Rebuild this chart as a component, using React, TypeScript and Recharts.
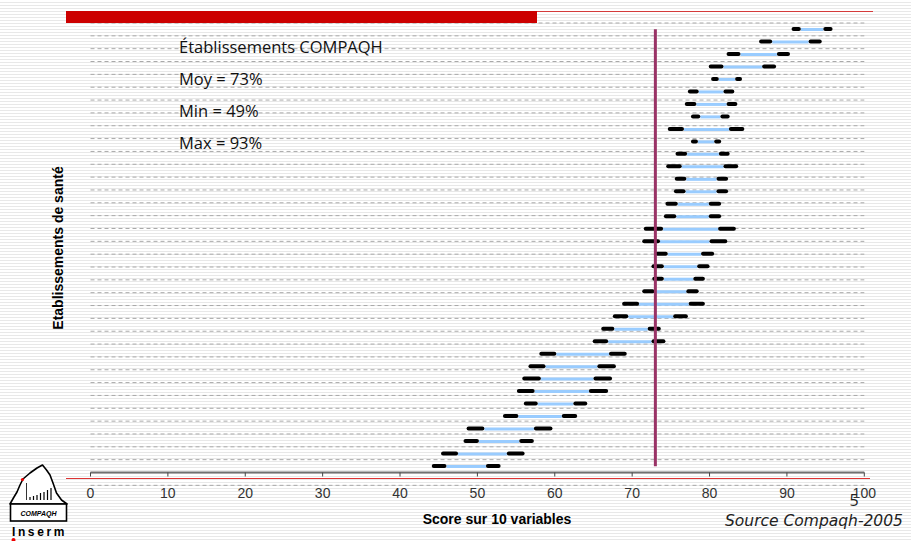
import React from 'react';
import { ComposedChart, Bar, XAxis, YAxis, CartesianGrid, ReferenceLine } from 'recharts';

// Establishments (top to bottom)
const establishments = [
  'E01', 'E02', 'E03', 'E04', 'E05', 'E06', 'E07', 'E08', 'E09', 'E10', 'E11', 'E12',
  'E13', 'E14', 'E15', 'E16', 'E17', 'E18', 'E19', 'E20', 'E21', 'E22', 'E23', 'E24',
  'E25', 'E26', 'E27', 'E28', 'E29', 'E30', 'E31', 'E32', 'E33', 'E34', 'E35', 'E36',
];

// Outer interval (black ends)
const outerLow = [
  90.6, 86.4, 82.2, 79.9, 80.2, 77.2, 76.8, 77.6, 74.6, 77.6, 75.6, 74.4,
  75.5, 75.4, 74.3, 74.1, 71.5, 71.3, 73.0, 72.5, 72.6, 71.3, 68.7, 67.5,
  66.0, 64.9, 58.0, 56.6, 55.8, 55.1, 56.0, 53.3, 48.6, 48.2, 45.3, 44.1,
];
const outerHigh = [
  95.9, 94.5, 90.4, 88.6, 84.2, 83.2, 83.6, 82.6, 84.5, 81.5, 82.6, 83.7,
  82.4, 82.4, 81.5, 81.5, 83.4, 82.3, 80.6, 80.0, 79.4, 78.6, 79.4, 77.2,
  73.7, 74.3, 69.3, 67.9, 67.4, 66.9, 64.2, 62.9, 59.7, 57.3, 56.1, 53.0,
];
// Inner interval (light blue)
const innerLow = [
  91.8, 88.1, 84.0, 81.8, 81.2, 78.6, 78.3, 78.8, 76.7, 78.5, 77.1, 76.4,
  77.0, 76.9, 75.9, 75.7, 74.0, 73.6, 74.6, 74.1, 74.1, 72.9, 70.9, 69.5,
  67.7, 66.9, 60.2, 58.8, 58.2, 57.4, 57.8, 55.3, 50.9, 50.2, 47.5, 46.0,
];
const innerHigh = [
  94.7, 92.8, 88.7, 86.8, 83.3, 81.8, 82.2, 81.4, 82.5, 80.6, 81.2, 81.8,
  80.9, 80.9, 79.9, 79.9, 81.1, 80.0, 78.9, 78.4, 77.9, 77.0, 77.3, 75.3,
  72.0, 72.5, 67.0, 65.5, 65.0, 64.4, 62.4, 60.9, 57.3, 55.4, 53.8, 51.1,
];

const xTicks = [0, 10, 20, 30, 40, 50, 60, 70, 80, 90, 100];
const rowBoundaries = [
  0, 1, 2, 3, 4, 5, 6, 7, 8, 9, 10, 11, 12, 13, 14, 15, 16, 17, 18,
  19, 20, 21, 22, 23, 24, 25, 26, 27, 28, 29, 30, 31, 32, 33, 34, 35, 36,
];
const meanScore = 73;

const annotations = ['Établissements COMPAQH', 'Moy = 73%', 'Min = 49%', 'Max = 93%'];

const rows = establishments.map((id, i) => ({
  id,
  leftEnd: [outerLow[i], innerLow[i]],
  inner: [innerLow[i], innerHigh[i]],
  rightEnd: [innerHigh[i], outerHigh[i]],
}));

const NoTick = () => <g />;

export default function App() {
  return (
    <div
      style={{
        position: 'absolute',
        left: 0,
        top: 0,
        width: 911,
        height: 541,
        overflow: 'hidden',
        background:
          'repeating-linear-gradient(to bottom, #ffffff 0px, #ffffff 2px, #e8e8e8 2px, #e8e8e8 3px)',
      }}
    >
      <div style={{ position: 'absolute', left: 0, top: 0 }}>
        <ComposedChart
          width={911}
          height={541}
          data={rows}
          layout="vertical"
          margin={{ top: 23, right: 46.7, bottom: 38.5, left: 80.5 }}
          barGap={0}
        >
          <CartesianGrid
            yAxisId="grid"
            vertical={false}
            stroke="#a8a8a8"
            strokeDasharray="4 3"
          />
          <XAxis
            type="number"
            domain={[0, 100]}
            ticks={xTicks}
            height={30}
            stroke="#707070"
            strokeWidth={2}
            tickSize={4}
            tickMargin={12}
            tickLine={{ stroke: '#444', strokeWidth: 1 }}
            tick={{ fill: '#333', fontSize: 14, fontFamily: '"Liberation Sans", Arial, sans-serif' }}
          />
          <YAxis yAxisId="cat1" type="category" dataKey="id" hide />
          <YAxis yAxisId="cat2" type="category" dataKey="id" hide />
          <YAxis yAxisId="cat3" type="category" dataKey="id" hide />
          <YAxis
            yAxisId="grid"
            type="number"
            domain={[0, 36]}
            ticks={rowBoundaries}
            interval={0}
            width={10}
            allowDataOverflow
            stroke="#707070"
            strokeWidth={2}
            tickSize={3}
            tickLine={{ stroke: '#444', strokeWidth: 1 }}
            tick={NoTick}
          />
          <Bar
            yAxisId="cat2"
            dataKey="inner"
            fill="#99ccff"
            barSize={3}
            isAnimationActive={false}
          />
          <Bar
            yAxisId="cat1"
            dataKey="leftEnd"
            fill="#000000"
            barSize={4}
            radius={2}
            isAnimationActive={false}
          />
          <Bar
            yAxisId="cat3"
            dataKey="rightEnd"
            fill="#000000"
            barSize={4}
            radius={2}
            isAnimationActive={false}
          />
          <ReferenceLine
            yAxisId="cat1"
            segment={[
              { x: meanScore, y: establishments[0] },
              { x: meanScore, y: establishments[establishments.length - 1] },
            ]}
            stroke="#993366"
            strokeWidth={3}
            ifOverflow="visible"
          />
        </ComposedChart>
      </div>
      <svg
        width={911}
        height={541}
        style={{ position: 'absolute', left: 0, top: 0, pointerEvents: 'none' }}
      >
        {/* slide header bar */}
        <rect x={66} y={11} width={471} height={12} fill="#cc0000" />
        <line x1={537} y1={11.5} x2={873} y2={11.5} stroke="#d43a3a" strokeWidth={1} />
        {/* bottom red line */}
        <line x1={66} y1={478.5} x2={870} y2={478.5} stroke="#dd3333" strokeWidth={1} />

        {annotations.map((t, i) => (
          <text
            key={t}
            x={179}
            y={52.5 + i * 32}
            fontFamily='"Comic Sans MS", "Open Sans", sans-serif'
            fontSize={16.5}
            fill="#111"
          >
            {t}
          </text>
        ))}

        <text
          transform="translate(63,248) rotate(-90)"
          textAnchor="middle"
          fontFamily='"Liberation Sans", Arial, sans-serif'
          fontWeight="bold"
          fontSize={14}
          fill="#000"
        >
          Etablissements de santé
        </text>
        <text
          x={497}
          y={524}
          textAnchor="middle"
          fontFamily='"Liberation Sans", Arial, sans-serif'
          fontWeight="bold"
          fontSize={14}
          fill="#000"
        >
          Score sur 10 variables
        </text>
        <text
          x={725}
          y={526}
          fontFamily='"DejaVu Sans", Verdana, sans-serif'
          fontStyle="italic"
          fontSize={15.5}
          fill="#222"
        >
          Source Compaqh-2005
        </text>
        <text
          x={854}
          y={506}
          textAnchor="middle"
          fontFamily='"Open Sans", sans-serif'
          fontSize={16}
          fill="#222"
        >
          5
        </text>

        {/* logo */}
        <path
          d="M10,504 L14,497 L17,492 L20,485 L23,479 L30,473 L37,468 L42.5,465 L46.5,470 L50,475 L53,483 L56.5,493 L61.5,500 L67,504 Z"
          fill="#fff"
          stroke="#000"
          strokeWidth={1.6}
          strokeLinejoin="round"
        />
        <line x1={26.5} y1={483} x2={26.5} y2={500} stroke="#000" strokeWidth={0.8} />
        <line x1={30} y1={497} x2={30} y2={500} stroke="#000" strokeWidth={1.2} />
        <line x1={33.5} y1={496} x2={33.5} y2={500} stroke="#000" strokeWidth={1.2} />
        <line x1={37} y1={495} x2={37} y2={500} stroke="#000" strokeWidth={1.2} />
        <line x1={40.5} y1={493} x2={40.5} y2={500} stroke="#000" strokeWidth={1.2} />
        <line x1={44} y1={492} x2={44} y2={500} stroke="#000" strokeWidth={1.2} />
        <line x1={47.5} y1={490} x2={47.5} y2={500} stroke="#000" strokeWidth={1.2} />
        <line x1={51} y1={488} x2={51} y2={500} stroke="#000" strokeWidth={1.2} />
        <rect x={10.5} y={504} width={56} height={17} fill="#fff" stroke="#000" strokeWidth={1.6} />
        <text
          x={38.5}
          y={515.5}
          textAnchor="middle"
          fontFamily='"Liberation Sans", Arial, sans-serif'
          fontStyle="italic"
          fontWeight="bold"
          fontSize={7}
          fill="#000"
        >
          COMPAQH
        </text>
        <text
          x={12}
          y={535.5}
          fontFamily='"Liberation Sans", Arial, sans-serif'
          fontWeight="bold"
          fontSize={12}
          letterSpacing={2.6}
          fill="#000"
        >
          Inserm
        </text>
        <circle cx={22.5} cy={479.5} r={1.6} fill="#e00" />
        <circle cx={13.5} cy={540} r={2} fill="#e00" />
      </svg>
    </div>
  );
}
